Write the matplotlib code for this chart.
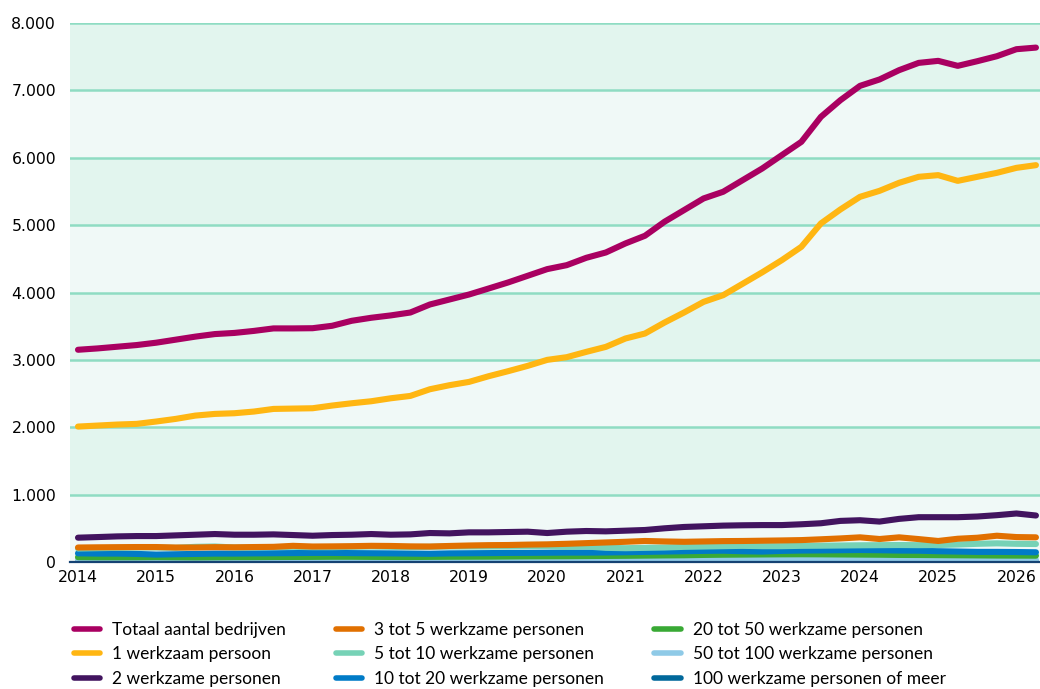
import numpy as np
import matplotlib
matplotlib.use("Agg")
import matplotlib.pyplot as plt
from matplotlib.patches import Rectangle
from matplotlib.lines import Line2D

# quarterly periods 2014 Q1 .. 2026 Q2
years = [2014 + q * 0.25 for q in range(50)]

totaal = [3150, 3170, 3195, 3220, 3255, 3300, 3345, 3383, 3400, 3430,
          3467, 3467, 3470, 3506, 3580, 3625, 3660, 3703, 3822, 3896,
          3970, 4059, 4149, 4248, 4347, 4406, 4515, 4594, 4728, 4842,
          5050, 5223, 5396, 5495, 5668, 5841, 6039, 6236, 6607, 6855,
          7067, 7162, 7300, 7408, 7438, 7364, 7433, 7507, 7611, 7635]
een = [2010, 2025, 2040, 2050, 2085, 2124, 2173, 2198, 2208, 2233,
       2272, 2277, 2282, 2322, 2356, 2386, 2430, 2465, 2564, 2624,
       2673, 2757, 2832, 2911, 3000, 3040, 3119, 3193, 3317, 3391,
       3554, 3703, 3861, 3960, 4130, 4300, 4480, 4678, 5025, 5233,
       5420, 5509, 5628, 5717, 5742, 5657, 5717, 5776, 5850, 5890]
twee = [361, 370, 380, 385, 385, 395, 405, 415, 405, 405,
        410, 400, 390, 400, 405, 415, 405, 410, 430, 425,
        440, 440, 445, 450, 430, 450, 460, 455, 465, 475,
        500, 520, 530, 540, 545, 548, 548, 560, 575, 610,
        620, 600, 640, 665, 665, 665, 675, 695, 720, 690]
drie_vijf = [215, 218, 220, 222, 222, 215, 215, 220, 218, 222,
             225, 240, 230, 232, 235, 240, 238, 232, 230, 238,
             245, 250, 252, 258, 262, 270, 280, 290, 300, 312,
             305, 300, 305, 310, 312, 316, 320, 325, 337, 350,
             366, 341, 366, 340, 312, 345, 360, 390, 370, 366]
vijf_tien = [200, 205, 210, 215, 215, 210, 225, 230, 215, 215,
             220, 225, 220, 220, 225, 230, 225, 220, 225, 230,
             230, 230, 232, 235, 235, 225, 230, 210, 205, 210,
             215, 225, 230, 235, 240, 235, 235, 240, 242, 245,
             248, 250, 252, 250, 252, 260, 270, 277, 270, 267]
tien_twintig = [129, 125, 125, 120, 110, 115, 120, 125, 125, 128,
                130, 132, 135, 135, 132, 130, 128, 125, 122, 128,
                130, 132, 135, 136, 138, 140, 140, 142, 145, 150,
                155, 160, 165, 168, 160, 155, 165, 170, 172, 175,
                178, 175, 170, 168, 160, 155, 150, 150, 148, 144]
twintig_vijftig = [72, 70, 70, 70, 72, 70, 68, 70, 72, 72,
                   74, 75, 76, 78, 78, 76, 75, 74, 76, 78,
                   79, 80, 82, 84, 85, 86, 88, 90, 92, 95,
                   98, 100, 105, 108, 110, 112, 114, 115, 114, 112,
                   110, 108, 105, 104, 102, 100, 98, 96, 95, 94]
vijftig_honderd = [25] * 50
honderd_plus = [4] * 50

series_labels = ["Totaal aantal bedrijven", "1 werkzaam persoon",
                 "2 werkzame personen", "3 tot 5 werkzame personen",
                 "5 tot 10 werkzame personen", "10 tot 20 werkzame personen",
                 "20 tot 50 werkzame personen", "50 tot 100 werkzame personen",
                 "100 werkzame personen of meer"]
series_values = [totaal, een, twee, drie_vijf, vijf_tien, tien_twintig,
                 twintig_vijftig, vijftig_honderd, honderd_plus]
colors = ["#a90061", "#ffb612", "#42145f", "#e17000", "#76d2b6",
          "#007bc7", "#39a935", "#8fcae7", "#01689b"]

x_ticks = list(range(2014, 2027))
y_ticks = list(range(0, 8001, 1000))
y_ticklabels = ["0" if v == 0 else f"{v // 1000}.000" for v in y_ticks]

W, H = 1040, 689
fig = plt.figure(figsize=(W / 100, H / 100), dpi=100)
ax = fig.add_axes([70 / W, 1 - 562 / H, 970 / W, (562 - 23) / H])

x0 = 2014 - 8 / 78.2
x1 = 2014 + 962 / 78.2
ax.set_xlim(x0, x1)
ax.set_ylim(0, 8000)

# alternating background bands
for i in range(8):
    c = "#f0f9f7" if i % 2 == 0 else "#e2f5ee"
    ax.add_patch(Rectangle((x0, i * 1000), x1 - x0, 1000, facecolor=c,
                           edgecolor="none", zorder=0))
for v in y_ticks[1:]:
    ax.axhline(v, color="#8fdcc3", lw=1.8, zorder=1)

n = len(series_values)
for i, (lab, vals, col) in enumerate(zip(series_labels, series_values, colors)):
    ax.plot(years, vals, color=col, lw=4.4, solid_capstyle="round",
            solid_joinstyle="round", label=lab, zorder=10 + (n - i))

for s in ["top", "right", "left"]:
    ax.spines[s].set_visible(False)
ax.spines["bottom"].set_color("#154273")
ax.spines["bottom"].set_linewidth(1.6)
ax.spines["bottom"].set_zorder(30)

ax.set_xticks(x_ticks)
ax.set_xticklabels([str(t) for t in x_ticks])
ax.set_yticks(y_ticks)
ax.set_yticklabels(y_ticklabels)
ax.tick_params(axis="both", length=0, labelsize=11.3, colors="#000000")
ax.tick_params(axis="y", pad=10)
ax.tick_params(axis="x", pad=6)

leg_handles = [Line2D([0], [0], color=c, lw=4, solid_capstyle="round")
               for c in colors]
fig.legend(leg_handles, series_labels, ncol=3, loc="upper left",
           bbox_to_anchor=(58 / W, 1 - 606 / H), frameon=False,
           prop={"family": "Lato", "size": 12.5}, handlelength=1.5,
           handletextpad=0.7, columnspacing=2.9, labelspacing=0.5)

fig.savefig("out.png", dpi=100)
